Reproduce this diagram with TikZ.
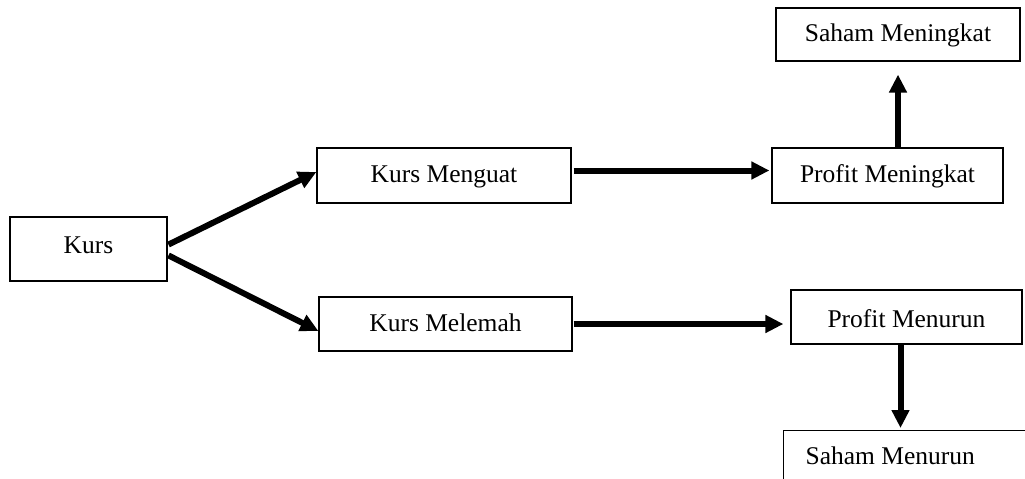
\documentclass[tikz,border=0pt]{standalone}
\usepackage{fontspec}
\setmainfont{Liberation Serif}
\usetikzlibrary{arrows.meta,calc}
\begin{document}
\begin{tikzpicture}[x=1pt,y=-1pt,
  box/.style={draw=black, line width=1.2pt, fill=white, inner sep=0pt,
    font=\fontsize{25.5}{30}\selectfont, text height=17pt, text depth=3pt},
  conn/.style={line width=6pt, -{Triangle[length=18pt,width=17pt]}}]
\useasboundingbox (0,0) rectangle (1025,479);
\clip (0,0) rectangle (1025,479);
\node[box, minimum width=157pt, minimum height=64pt, text depth=9pt] (kurs) at (88.5,249) {Kurs};
\node[box, minimum width=254pt, minimum height=55pt] (km) at (444,175.5) {Kurs Menguat};
\node[box, minimum width=253pt, minimum height=54pt] (kl) at (445.5,324) {Kurs Melemah};
\node[box, minimum width=231pt, minimum height=55pt] (pm) at (887.5,175.5) {Profit Meningkat};
\node[box, minimum width=231pt, minimum height=54pt, text height=20pt, text depth=0pt] (pn) at (906.5,317) {Profit Menurun};
\node[box, minimum width=244pt, minimum height=53pt] (sm) at (898,34.5) {Saham Meningkat};
\node[box, minimum height=54pt, inner xsep=22pt, anchor=north west] (sn) at (783,430) {\makebox[220pt][l]{Saham Menurun}};

\draw[conn, shorten <=1pt] ([yshift=4pt]kurs.east) -- ([yshift=3.5pt]km.west);
\draw[conn, shorten <=1pt] ([yshift=-6pt]kurs.east) -- ([yshift=-7pt]kl.west);
\draw[conn, shorten <=2pt, shorten >=2pt] ([yshift=5pt]km.east) -- ([yshift=5pt]km.east -| pm.west);
\draw[conn, shorten <=1pt, shorten >=7pt] (kl.east) -- (kl.east -| pn.west);
\draw[conn, shorten >=13pt] (pm.north -| sm.south) -- (sm.south);
\draw[conn, shorten >=2pt] ([xshift=-6pt]pn.south) -- ([xshift=-6pt]pn.south |- sn.north);
\end{tikzpicture}
\end{document}
